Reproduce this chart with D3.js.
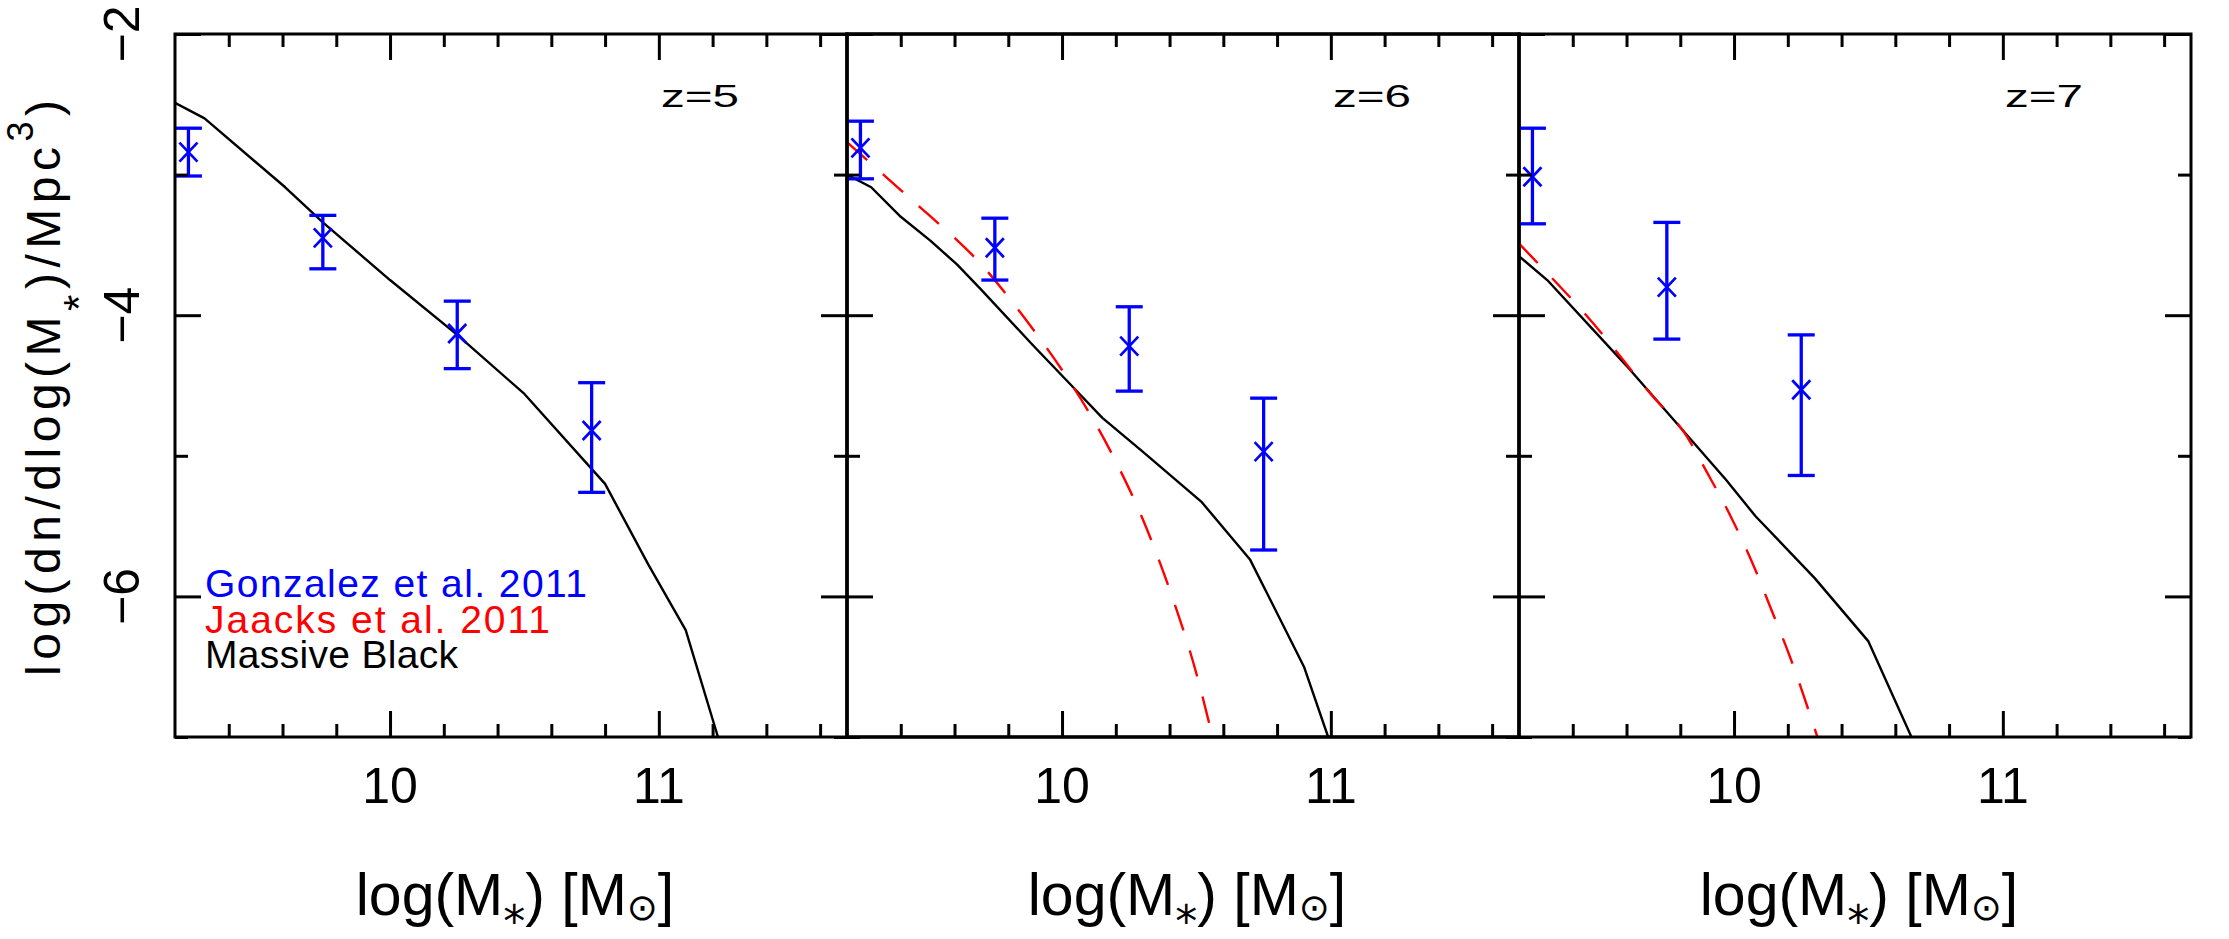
<!DOCTYPE html>
<html>
<head>
<meta charset="utf-8">
<script src="https://cdn.jsdelivr.net/npm/d3@7"></script>
<style>
  body { margin: 0; background: #fff; }
  text { font-family: "Liberation Sans", Arial, sans-serif; }
</style>
</head>
<body>
<svg id="chart" width="2229" height="939"></svg>
<script>
// ---------------- data ----------------
const panelLabels = ["z=5", "z=6", "z=7"];
const xMajorTicks = [10, 11];
const xMinorTicks = [9.4, 9.6, 9.8, 10.2, 10.4, 10.6, 10.8, 11.2, 11.4, 11.6];
const yMajorTicks = [-2, -4, -6];
const yMinorTicks = [-3, -5, -7];
const xTickLabels = ["10", "11"];
const yTickLabels = ["−2", "−4", "−6"];
const legendLabels = ["Gonzalez et al. 2011", "Jaacks et al. 2011", "Massive Black"];

// Gonzalez et al. 2011: [log M*, log phi, lower error end, upper error end]
const gonzalezZ5 = [[9.25, -2.84, -3.01, -2.67], [9.75, -3.45, -3.67, -3.29], [10.25, -4.13, -4.38, -3.90], [10.75, -4.82, -5.26, -4.48]];
const gonzalezZ6 = [[9.25, -2.81, -3.03, -2.62], [9.75, -3.52, -3.75, -3.31], [10.25, -4.22, -4.54, -3.94], [10.75, -4.97, -5.67, -4.59]];
const gonzalezZ7 = [[9.25, -3.015, -3.35, -2.67], [9.75, -3.80, -4.17, -3.34], [10.25, -4.53, -5.14, -4.14]];

// Massive Black simulation: [log M*, log phi]
const massiveBlackZ5 = [[9.2, -2.49], [9.31, -2.60], [9.61, -3.09], [9.75, -3.34], [10.0, -3.75], [10.25, -4.14], [10.5, -4.56], [10.8, -5.20], [10.96, -5.77], [11.10, -6.24], [11.22, -7.0]];
const massiveBlackZ6 = [[9.2, -3.0], [9.29, -3.09], [9.4, -3.30], [9.51, -3.47], [9.61, -3.64], [9.70, -3.82], [9.89, -4.21], [10.02, -4.47], [10.15, -4.73], [10.30, -4.97], [10.52, -5.33], [10.70, -5.74], [10.90, -6.50], [10.99, -7.0]];
const massiveBlackZ7 = [[9.2, -3.58], [9.305, -3.75], [9.6, -4.36], [9.97, -5.17], [10.08, -5.43], [10.30, -5.87], [10.50, -6.32], [10.66, -7.0]];

// Jaacks et al. 2011: [log M*, log phi]
const jaacksZ6 = [[9.2, -2.77], [9.3, -2.94], [9.4, -3.11], [9.5, -3.28], [9.6, -3.45], [9.7, -3.64], [9.8, -3.87], [9.9, -4.12], [10.0, -4.39], [10.1, -4.69], [10.2, -5.04], [10.3, -5.45], [10.4, -5.95], [10.5, -6.55], [10.56, -7.0]];
const jaacksZ7 = [[9.2, -3.49], [9.26, -3.61], [9.45, -4.0], [9.69, -4.56], [9.82, -4.85], [9.90, -5.12], [9.99, -5.44], [10.07, -5.77], [10.14, -6.10], [10.21, -6.44], [10.31, -7.0]];

const panelData = [
  { label: panelLabels[0], gonzalez: gonzalezZ5, mb: massiveBlackZ5, jaacks: null },
  { label: panelLabels[1], gonzalez: gonzalezZ6, mb: massiveBlackZ6, jaacks: jaacksZ6 },
  { label: panelLabels[2], gonzalez: gonzalezZ7, mb: massiveBlackZ7, jaacks: jaacksZ7 }
];

// ---------------- layout ----------------
const W = 672, H = 703, LEFT = 175, TOP = 34;
const BLUE = "#0000ff", RED = "#ff0000";

const svg = d3.select("#chart");
svg.append("rect").attr("width", 2229).attr("height", 939).attr("fill", "#fff");

const x = d3.scaleLinear().domain([9.2, 11.7]).range([0, W]);
const y = d3.scaleLinear().domain([-7, -2]).range([H, 0]);

const line = d3.line().x(d => x(d[0])).y(d => y(d[1]));
const smooth = d3.line().curve(d3.curveMonotoneX).x(d => x(d[0])).y(d => y(d[1]));

function styleAxis(g) {
  g.select(".domain").remove();
  g.selectAll(".tick line").attr("stroke", "#000").attr("stroke-width", 3);
  g.selectAll(".tick text").remove();
}

panelData.forEach((p, i) => {
  const g = svg.append("g").attr("transform", `translate(${LEFT + i * W},${TOP})`);

  g.append("clipPath").attr("id", "clip" + i)
    .append("rect").attr("width", W).attr("height", H);
  const plot = g.append("g").attr("clip-path", `url(#clip${i})`);

  // Massive Black
  plot.append("path").datum(p.mb)
    .attr("d", line).attr("fill", "none")
    .attr("stroke", "#000").attr("stroke-width", 2.4).attr("stroke-linejoin", "round");

  // Jaacks
  if (p.jaacks) {
    plot.append("path").datum(p.jaacks)
      .attr("d", smooth).attr("fill", "none")
      .attr("stroke", RED).attr("stroke-width", 2.4)
      .attr("stroke-dasharray", "27,21");
  }

  // Gonzalez error bars + crosses
  const pts = plot.selectAll("g.pt").data(p.gonzalez).join("g").attr("class", "pt");
  pts.append("line")
    .attr("x1", d => x(d[0])).attr("x2", d => x(d[0]))
    .attr("y1", d => y(d[2])).attr("y2", d => y(d[3]))
    .attr("stroke", BLUE).attr("stroke-width", 3.3);
  [2, 3].forEach(k => {
    pts.append("line")
      .attr("x1", d => x(d[0]) - 13.5).attr("x2", d => x(d[0]) + 13.5)
      .attr("y1", d => y(d[k])).attr("y2", d => y(d[k]))
      .attr("stroke", BLUE).attr("stroke-width", 3.3);
  });
  [[-1, -1], [-1, 1]].forEach(([a, b]) => {
    pts.append("line")
      .attr("x1", d => x(d[0]) + a * 9).attr("y1", d => y(d[1]) + b * 9.5)
      .attr("x2", d => x(d[0]) - a * 9).attr("y2", d => y(d[1]) - b * 9.5)
      .attr("stroke", BLUE).attr("stroke-width", 2.7);
  });

  // frame
  g.append("rect").attr("width", W).attr("height", H)
    .attr("fill", "none").attr("stroke", "#000").attr("stroke-width", i === 1 ? 3.6 : 3);

  // ticks (inward) on all four sides
  [[xMinorTicks, 13], [xMajorTicks, 26]].forEach(([vals, len]) => {
    g.append("g").attr("transform", `translate(0,${H})`)
      .call(d3.axisBottom(x).tickValues(vals).tickSize(-len).tickFormat(""))
      .call(styleAxis);
    g.append("g")
      .call(d3.axisTop(x).tickValues(vals).tickSize(-len).tickFormat(""))
      .call(styleAxis);
  });
  [[yMinorTicks, 13], [yMajorTicks, 26]].forEach(([vals, len]) => {
    g.append("g")
      .call(d3.axisLeft(y).tickValues(vals).tickSize(-len).tickFormat(""))
      .call(styleAxis);
    g.append("g").attr("transform", `translate(${W},0)`)
      .call(d3.axisRight(y).tickValues(vals).tickSize(-len).tickFormat(""))
      .call(styleAxis);
  });

  // x tick labels
  g.selectAll("text.xl").data(xMajorTicks).join("text").attr("class", "xl")
    .attr("x", d => x(d)).attr("y", H + 66)
    .attr("text-anchor", "middle").attr("font-size", 50).attr("fill", "#000")
    .text((d, k) => xTickLabels[k]);

  // panel label
  g.append("text").attr("x", 486).attr("y", 73)
    .attr("font-size", 32).attr("fill", "#000")
    .attr("textLength", 78).attr("lengthAdjust", "spacingAndGlyphs")
    .text(p.label);

  // x title
  const xt = g.append("text").attr("x", W / 2 + 4).attr("y", 915 - TOP)
    .attr("text-anchor", "middle").attr("font-size", 59).attr("fill", "#000");
  xt.append("tspan").text("log(M");
  xt.append("tspan").attr("font-size", 44).attr("dy", 8)
    .style("font-family", "'DejaVu Sans', sans-serif").text("⁎");
  xt.append("tspan").attr("dy", -8).text(") [M");
  xt.append("tspan").attr("font-size", 37).attr("dy", 5)
    .style("font-family", "'DejaVu Sans', sans-serif").text("⊙");
  xt.append("tspan").attr("dy", -5).text("]");
});

// y tick labels (first panel only)
const g0 = svg.append("g").attr("transform", `translate(${LEFT},${TOP})`);
g0.selectAll("text.yl").data(yMajorTicks).join("text").attr("class", "yl")
  .attr("transform", d => `translate(-36,${y(d)}) rotate(-90)`)
  .attr("text-anchor", "middle").attr("font-size", 50).attr("fill", "#000")
  .text((d, k) => yTickLabels[k]);

// y title
const yt = svg.append("text")
  .attr("transform", "translate(60,388) rotate(-90)")
  .attr("text-anchor", "middle").attr("font-size", 48).attr("fill", "#000")
  .attr("textLength", 576).attr("lengthAdjust", "spacing");
yt.append("tspan").text("log(dn/dlog(M");
yt.append("tspan").attr("font-size", 42).attr("dy", 33).text("*");
yt.append("tspan").attr("dy", -33).text(")/Mpc");
yt.append("tspan").attr("font-size", 36).attr("dy", -27).text("3");
yt.append("tspan").attr("dy", 27).text(")");

// legend (first panel)
const legendColors = [BLUE, RED, "#000"];
const legendWidths = [382, 345, 253];
g0.selectAll("text.leg").data(legendLabels).join("text").attr("class", "leg")
  .attr("x", 30).attr("y", (d, k) => 563 + k * 35.5)
  .attr("font-size", 39).attr("fill", (d, k) => legendColors[k])
  .attr("textLength", (d, k) => legendWidths[k]).attr("lengthAdjust", "spacing")
  .text(d => d);
</script>
</body>
</html>
